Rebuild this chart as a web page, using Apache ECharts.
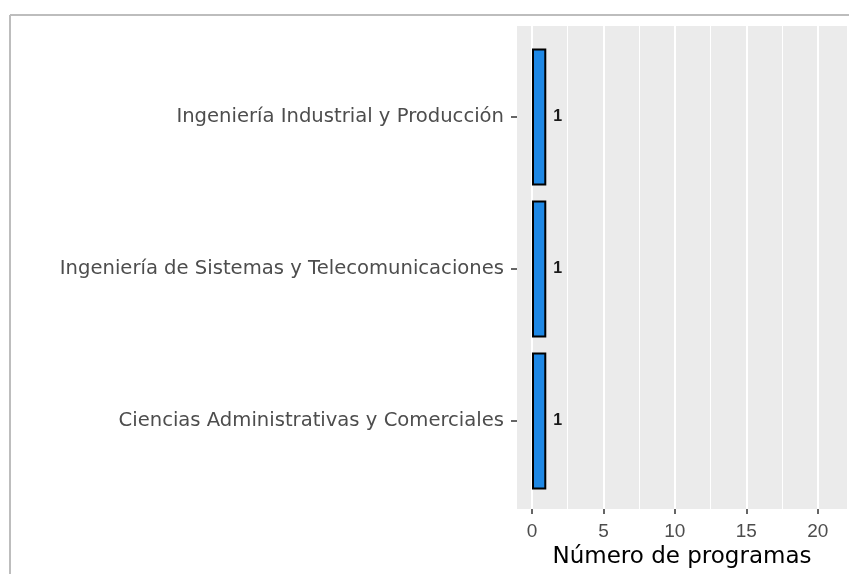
<!DOCTYPE html>
<html>
<head>
<meta charset="utf-8">
<script src="https://cdn.jsdelivr.net/npm/echarts@6/dist/echarts.min.js"></script>
<style>
  html, body { margin: 0; padding: 0; background: #fff; }
  #chart { width: 849px; height: 574px; }
</style>
</head>
<body>
<div id="chart"></div>
<script>
// categories, top to bottom
var facultades = [
  'Ingeniería Industrial y Producción',
  'Ingeniería de Sistemas y Telecomunicaciones',
  'Ciencias Administrativas y Comerciales'
];
var programas = [1, 1, 1];
var xTicks = [0, 5, 10, 15, 20];
var xMinor = [2.5, 7.5, 12.5, 17.5];
var xMin = -1.05, xMax = 22.05;

var chart = echarts.init(document.getElementById('chart'));

var option = {
  animation: false,
  textStyle: { fontFamily: 'Liberation Sans, Arial, sans-serif' },
  graphic: [
    // outer frame from the original picture
    { type: 'line', shape: { x1: 10, y1: 15, x2: 849, y2: 15 }, style: { stroke: '#bdbdbd', lineWidth: 2 }, silent: true },
    { type: 'line', shape: { x1: 10, y1: 15, x2: 10, y2: 574 }, style: { stroke: '#bdbdbd', lineWidth: 2 }, silent: true }
  ],
  grid: [
    { left: 517, right: 2, top: 26, bottom: 61, show: true, backgroundColor: '#ebebeb', borderWidth: 0 },
    { left: 517, right: 2, top: 41, bottom: 77 }
  ],
  xAxis: [
    {
      gridIndex: 0, type: 'value', min: xMin, max: xMax,
      axisLine: { show: false },
      axisTick: { show: true, length: 5, lineStyle: { color: '#333333', width: 1.5 }, customValues: xTicks },
      axisLabel: { color: '#4d4d4d', fontSize: 19, margin: 13, customValues: xTicks },
      splitLine: { show: true, lineStyle: { color: '#ffffff', width: 2 } },
      name: 'Número de programas',
      nameLocation: 'middle',
      nameGap: 33,
      nameTextStyle: { color: '#000000', fontSize: 23, fontFamily: 'DejaVu Sans' }
    },
    {
      gridIndex: 0, type: 'value', min: xMin, max: xMax, position: 'top',
      axisLine: { show: false }, axisLabel: { show: false },
      axisTick: { show: false, customValues: xMinor },
      splitLine: { show: true, lineStyle: { color: '#ffffff', width: 1 } }
    },
    {
      gridIndex: 1, type: 'value', min: xMin, max: xMax, show: false
    }
  ],
  yAxis: [
    { gridIndex: 0, type: 'value', show: false },
    {
      gridIndex: 1, type: 'category', data: facultades, inverse: true,
      axisLine: { show: false, onZero: false },
      axisTick: { show: true, length: 6, alignWithLabel: true, lineStyle: { color: '#333333', width: 1.5 } },
      axisLabel: { color: '#4d4d4d', fontSize: 19.6, margin: 13, fontFamily: 'DejaVu Sans' },
      splitLine: { show: false }
    }
  ],
  series: [
    {
      type: 'bar',
      xAxisIndex: 2,
      yAxisIndex: 1,
      data: programas,
      barWidth: '90%',
      itemStyle: { color: '#1e88e5', borderColor: '#000000', borderWidth: 2 },
      label: {
        show: true, position: 'right', distance: 7,
        color: '#1a1a1a', fontSize: 16, fontWeight: 'bold'
      }
    }
  ]
};

chart.setOption(option);
</script>
</body>
</html>
